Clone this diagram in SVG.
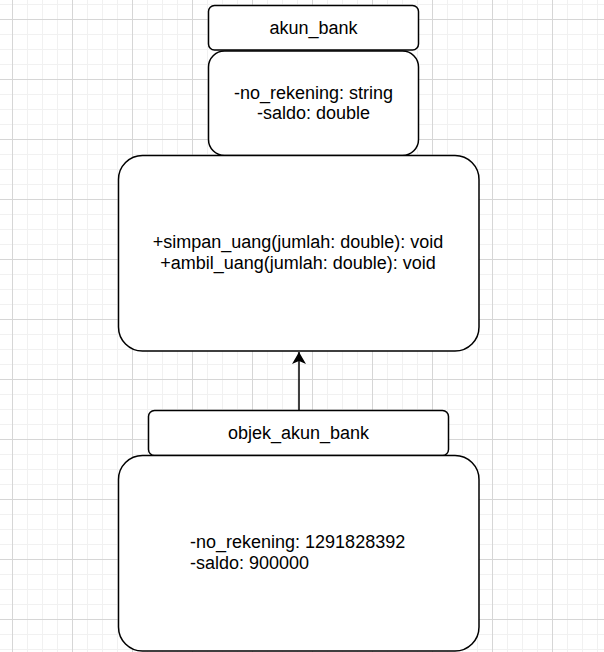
<svg xmlns="http://www.w3.org/2000/svg" width="604" height="652" viewBox="0 0 604 652">
  <defs>
    <pattern id="minor" x="12" y="19" width="15" height="15" patternUnits="userSpaceOnUse">
      <path d="M0 0.5H15M0.5 0V15" fill="none" stroke="#f1f1f1" stroke-width="1"/>
    </pattern>
    <pattern id="major" x="12" y="19" width="60" height="60" patternUnits="userSpaceOnUse">
      <path d="M0 0.5H60M0.5 0V60" fill="none" stroke="#d6d6d6" stroke-width="1"/>
    </pattern>
    <marker id="arrow" viewBox="0 0 12 14" refX="12" refY="7" markerWidth="12" markerHeight="14" markerUnits="userSpaceOnUse" orient="auto">
      <path d="M0 0L12 7L0 14L3 7Z" fill="#000"/>
    </marker>
  </defs>
  <style>
    .box { fill: #fff; stroke: #000; stroke-width: 1.5; }
    .t { font-family: "Liberation Sans", Arial, Helvetica, sans-serif; font-size: 18px; fill: #000; }
    .c { text-anchor: middle; }
    .edge { fill: none; stroke: #000; stroke-width: 1.5; }
  </style>
  <rect width="604" height="652" fill="#fff"/>
  <rect width="604" height="652" fill="url(#minor)"/>
  <rect width="604" height="652" fill="url(#major)"/>

  <g id="akun_bank_header">
    <rect class="box" x="208.5" y="5.5" width="210" height="44.5" rx="6" ry="6"/>
    <text class="t c" x="313.5" y="33.5">akun_bank</text>
  </g>
  <g id="akun_bank_attributes">
    <rect class="box" x="208.5" y="51" width="210" height="104.5" rx="16" ry="16"/>
    <text class="t c" x="313.5" y="99">-no_rekening: string</text>
    <text class="t c" x="313.5" y="118.5">-saldo: double</text>
  </g>
  <g id="akun_bank_methods">
    <rect class="box" x="118.5" y="155.5" width="360.5" height="195.5" rx="24" ry="24"/>
    <text class="t c" x="298" y="247.5">+simpan_uang(jumlah: double): void</text>
    <text class="t c" x="298" y="268.5">+ambil_uang(jumlah: double): void</text>
  </g>
  <g id="objek_header">
    <rect class="box" x="148.5" y="410.5" width="300" height="45" rx="6" ry="6"/>
    <text class="t c" x="298.5" y="439">objek_akun_bank</text>
  </g>
  <g id="objek_attributes">
    <rect class="box" x="118.5" y="455.5" width="360.5" height="195.5" rx="24" ry="24"/>
    <text class="t" x="190" y="547.5">-no_rekening: 1291828392</text>
    <text class="t" x="190" y="568.5">-saldo: 900000</text>
  </g>
  <g id="connectors">
    <path class="edge" d="M299 410.5V352" marker-end="url(#arrow)"/>
  </g>
</svg>
